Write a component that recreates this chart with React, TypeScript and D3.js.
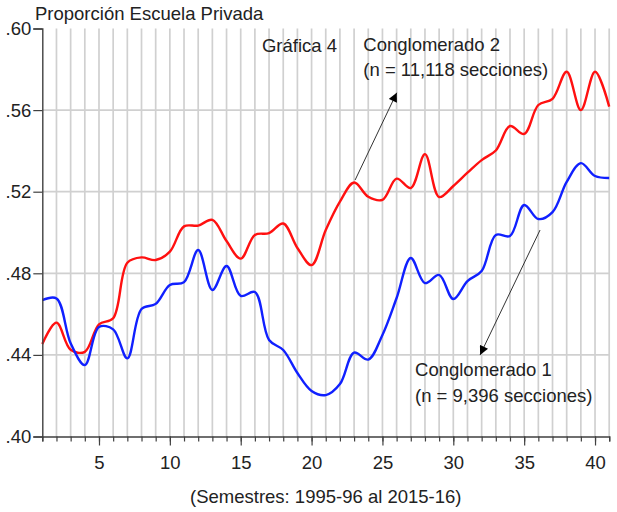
import { useEffect, useRef } from "react";
import * as d3 from "d3";

// semestres 1995-96 ... 2015-16 (índice 1..41)
const semestres = [
  1, 2, 3, 4, 5, 6, 7, 8, 9, 10, 11, 12, 13, 14, 15, 16, 17, 18, 19, 20, 21,
  22, 23, 24, 25, 26, 27, 28, 29, 30, 31, 32, 33, 34, 35, 36, 37, 38, 39, 40, 41,
];

const conglomerado2 = [
  0.4453, 0.4558, 0.4425, 0.4415, 0.4550, 0.4580, 0.4852, 0.4878, 0.4865, 0.4906,
  0.5030, 0.5034, 0.5062, 0.4958, 0.4872, 0.4988, 0.4997, 0.5044, 0.4924, 0.4840,
  0.5012, 0.5151, 0.5245, 0.5175, 0.5160, 0.5264, 0.5218, 0.5384, 0.5174, 0.5228,
  0.5293, 0.5355, 0.5402, 0.5522, 0.5483, 0.5625, 0.5655, 0.5788, 0.5600, 0.5788,
  0.5617,
];

const conglomerado1 = [
  0.4668, 0.4677, 0.4457, 0.4350, 0.4537, 0.4525, 0.4383, 0.4625, 0.4650, 0.4743,
  0.4757, 0.4914, 0.4718, 0.4836, 0.4689, 0.4708, 0.4473, 0.4424, 0.4311, 0.4223,
  0.4203, 0.4257, 0.4411, 0.4377, 0.4498, 0.4679, 0.4875, 0.4752, 0.4792, 0.4674,
  0.4762, 0.4811, 0.4988, 0.4983, 0.5135, 0.5066, 0.5100, 0.5248, 0.5340, 0.5277,
  0.5267,
];

const yTicks = [0.4, 0.44, 0.48, 0.52, 0.56, 0.6];
const xLabelTicks = [5, 10, 15, 20, 25, 30, 35, 40];

const W = 617, H = 512;
const FONT = "'Liberation Sans', Arial, sans-serif";

export default function App() {
  const svgRef = useRef<SVGSVGElement>(null);

  useEffect(() => {
    if (!svgRef.current) return;
    const svg = d3.select(svgRef.current);
    svg.selectAll("*").remove();

    const x = d3.scaleLinear().domain([1, 41]).range([42.3, 609.2]);
    const y = d3.scaleLinear().domain([0.4, 0.6]).range([436.5, 28.5]);

    const defs = svg.append("defs");
    defs.append("marker")
      .attr("id", "arrow").attr("viewBox", "0 0 10 10")
      .attr("refX", 10).attr("refY", 5)
      .attr("markerWidth", 10).attr("markerHeight", 9)
      .attr("markerUnits", "userSpaceOnUse")
      .attr("orient", "auto")
      .append("path").attr("d", "M0,0 L10,5 L0,10 Z").attr("fill", "#000");

    /* grid */
    const grid = svg.append("g");
    grid.selectAll("line.v")
      .data(semestres.slice(1))
      .join("line").attr("class", "v")
      .attr("x1", d => x(d)).attr("x2", d => x(d))
      .attr("y1", y(0.6)).attr("y2", y(0.4))
      .attr("stroke", "#d0d0d0").attr("stroke-width", 1.7);
    grid.selectAll("line.h")
      .data(yTicks.slice(1, -1))
      .join("line").attr("class", "h")
      .attr("x1", x(1)).attr("x2", x(41))
      .attr("y1", d => y(d)).attr("y2", d => y(d))
      .attr("stroke", "#d0d0d0").attr("stroke-width", 1.7);

    /* series */
    const line = d3.line<number>()
      .x((_, i) => x(semestres[i]))
      .y(d => y(d))
      .curve(d3.curveCatmullRom.alpha(0.5));

    svg.append("path").attr("d", line(conglomerado2) ?? "")
      .attr("fill", "none").attr("stroke", "#ff1010").attr("stroke-width", 2.4);
    svg.append("path").attr("d", line(conglomerado1) ?? "")
      .attr("fill", "none").attr("stroke", "#1020ff").attr("stroke-width", 2.4);

    /* axes */
    const yAxis = svg.append("g").attr("transform", `translate(${x(1)},0)`)
      .call(d3.axisLeft(y).tickValues(yTicks).tickSize(9).tickPadding(2)
        .tickFormat(d => d3.format(".2f")(d as number).replace(/^0/, "")));
    yAxis.select(".domain").attr("stroke", "#404040").attr("stroke-width", 1.4);
    yAxis.selectAll(".tick line").attr("stroke", "#404040").attr("stroke-width", 1.2);
    yAxis.selectAll("text").attr("font-family", FONT).attr("font-size", 18.5).attr("fill", "#222");

    const xAxisG = svg.append("g").attr("transform", `translate(0,${y(0.4)})`);
    const xMinor = xAxisG.append("g")
      .call(d3.axisBottom(x).tickValues(semestres).tickSize(5).tickFormat(() => ""));
    xMinor.select(".domain").attr("stroke", "#404040").attr("stroke-width", 1.4);
    xMinor.selectAll(".tick line").attr("stroke", "#404040").attr("stroke-width", 1.2);
    const xMajor = xAxisG.append("g")
      .call(d3.axisBottom(x).tickValues(xLabelTicks).tickSize(9).tickPadding(10)
        .tickFormat(d3.format("d") as any));
    xMajor.select(".domain").remove();
    xMajor.selectAll(".tick line").attr("stroke", "#404040").attr("stroke-width", 1.2);
    xMajor.selectAll("text").attr("font-family", FONT).attr("font-size", 18.5).attr("fill", "#222");

    /* texts */
    const txt = (tx: number, ty: number, s: string, anchor = "start") =>
      svg.append("text").attr("x", tx).attr("y", ty)
        .attr("text-anchor", anchor)
        .attr("font-family", FONT).attr("font-size", 18.5).attr("fill", "#222")
        .text(s);

    txt(35, 20, "Proporción Escuela Privada");
    txt((x(1) + x(41)) / 2, 503, "(Semestres: 1995-96 al 2015-16)", "middle");

    txt(x(16.5), y(0.5885), "Gráfica 4");
    txt(x(23.65), y(0.589), "Conglomerado 2");
    txt(x(23.65), y(0.5767), "(n = 11,118 secciones)");
    txt(x(27.3), y(0.4297), "Conglomerado 1");
    txt(x(27.3), y(0.4171), "(n = 9,396 secciones)");

    /* arrows */
    const arrow = (t0: number, v0: number, t1: number, v1: number) =>
      svg.append("line")
        .attr("x1", x(t0)).attr("y1", y(v0)).attr("x2", x(t1)).attr("y2", y(v1))
        .attr("stroke", "#333").attr("stroke-width", 1)
        .attr("marker-end", "url(#arrow)");
    arrow(23.07, 0.5257, 26.01, 0.5685);
    arrow(36.12, 0.5012, 31.89, 0.44);
  }, []);

  return (
    <svg
      ref={svgRef}
      width={W}
      height={H}
      viewBox={`0 0 ${W} ${H}`}
      style={{ position: "fixed", left: 0, top: 0, background: "#fff", display: "block" }}
    />
  );
}
